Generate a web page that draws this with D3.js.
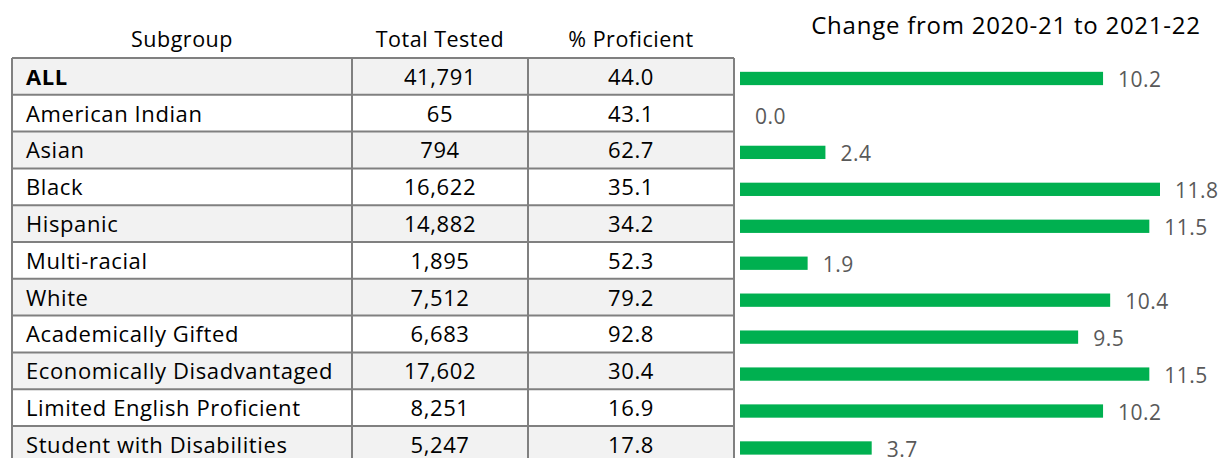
<!DOCTYPE html>
<html>
<head>
<meta charset="utf-8">
<script src="https://d3js.org/d3.v7.min.js"></script>
<style>
  body { margin: 0; background: #fff; }
  text { font-family: "Open Sans", sans-serif; }
</style>
</head>
<body>
<svg width="1220" height="458"></svg>
<script>
var subgroups = ["ALL", "American Indian", "Asian", "Black", "Hispanic", "Multi-racial", "White",
  "Academically Gifted", "Economically Disadvantaged", "Limited English Proficient", "Student with Disabilities"];
var totalTested = ["41,791", "65", "794", "16,622", "14,882", "1,895", "7,512", "6,683", "17,602", "8,251", "5,247"];
var proficient = ["44.0", "43.1", "62.7", "35.1", "34.2", "52.3", "79.2", "92.8", "30.4", "16.9", "17.8"];
var change = [10.2, 0.0, 2.4, 11.8, 11.5, 1.9, 10.4, 9.5, 11.5, 10.2, 3.7];
var headers = ["Subgroup", "Total Tested", "% Proficient"];

var svg = d3.select("svg");

// table columns and rows
var colEdges = [12, 352, 528, 734];
var rowH = 36.8, tableTop = 58;

var rowY = d3.scaleBand()
    .domain(d3.range(subgroups.length))
    .range([tableTop, tableTop + rowH * subgroups.length])
    .padding(0);

var table = svg.append("g").attr("class", "table");

// row backgrounds
table.selectAll("rect.row")
    .data(subgroups)
    .enter().append("rect")
    .attr("class", "row")
    .attr("x", colEdges[0])
    .attr("y", function(d, i) { return rowY(i); })
    .attr("width", colEdges[3] - colEdges[0])
    .attr("height", rowY.bandwidth())
    .style("fill", function(d, i) { return i % 2 == 0 ? "#f2f2f2" : "#ffffff"; });

// headers
table.selectAll("text.header")
    .data(headers)
    .enter().append("text")
    .attr("class", "header")
    .attr("x", function(d, i) { return (colEdges[i] + colEdges[i + 1]) / 2; })
    .attr("y", 46.5)
    .attr("text-anchor", "middle")
    .style("font-size", "21.5px")
    .style("letter-spacing", "0.5px")
    .style("fill", "#000")
    .text(function(d) { return d; });

// cell text
var cols = [subgroups, totalTested, proficient];
cols.forEach(function(col, c) {
    table.selectAll("text.c" + c)
        .data(col)
        .enter().append("text")
        .attr("class", "c" + c)
        .attr("x", c == 0 ? colEdges[0] + 14 : (colEdges[c] + colEdges[c + 1]) / 2)
        .attr("y", function(d, i) { return rowY(i) + rowY.bandwidth() / 2 + 8.3; })
        .attr("text-anchor", c == 0 ? "start" : "middle")
        .style("font-size", "22px")
        .style("letter-spacing", "0.6px")
        .style("font-weight", function(d, i) { return i == 0 && c == 0 ? "bold" : "normal"; })
        .style("fill", "#000")
        .text(function(d) { return d; });
});

// grid lines
var lineColor = "#808080";
table.selectAll("line.h")
    .data(d3.range(subgroups.length + 1))
    .enter().append("line")
    .attr("class", "h")
    .attr("x1", colEdges[0]).attr("x2", colEdges[3])
    .attr("y1", function(i) { return tableTop + i * rowH; })
    .attr("y2", function(i) { return tableTop + i * rowH; })
    .style("stroke", lineColor).style("stroke-width", 2);

table.selectAll("line.v")
    .data(colEdges)
    .enter().append("line")
    .attr("class", "v")
    .attr("x1", function(d) { return d; }).attr("x2", function(d) { return d; })
    .attr("y1", tableTop).attr("y2", tableTop + rowH * subgroups.length)
    .style("stroke", lineColor).style("stroke-width", 2);

// bar chart
var x = d3.scaleLinear().domain([0, 11.8]).range([740, 1160]);
var barY = d3.scaleBand()
    .domain(d3.range(change.length))
    .range([60, 60 + 36.95 * change.length])
    .paddingInner(0.64).paddingOuter(0.32);

var bars = svg.append("g").attr("class", "bars");

bars.selectAll("rect")
    .data(change)
    .enter().append("rect")
    .attr("x", x(0))
    .attr("y", function(d, i) { return barY(i); })
    .attr("width", function(d) { return x(d) - x(0); })
    .attr("height", barY.bandwidth())
    .style("fill", "#00b050");

bars.selectAll("text")
    .data(change)
    .enter().append("text")
    .attr("x", function(d) { return x(d) + 15; })
    .attr("y", function(d, i) { return barY(i) + barY.bandwidth() / 2 + 9; })
    .style("font-size", "21px")
    .style("letter-spacing", "0.5px")
    .style("fill", "#595959")
    .text(function(d) { return d.toFixed(1); });

svg.append("text")
    .attr("x", 1006)
    .attr("y", 34)
    .attr("text-anchor", "middle")
    .style("font-size", "24px")
    .style("letter-spacing", "0.75px")
    .style("fill", "#000")
    .text("Change from 2020-21 to 2021-22");
</script>
</body>
</html>
